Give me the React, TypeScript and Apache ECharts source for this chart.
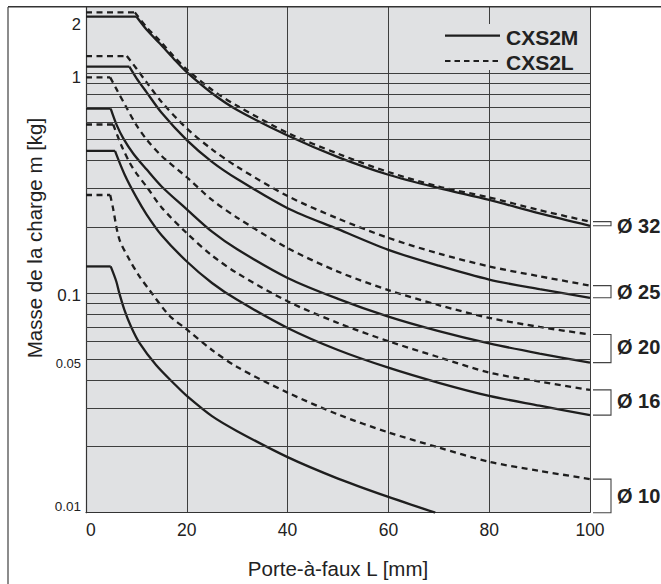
import React, { useEffect, useRef } from "react";
import * as echarts from "echarts";

// ---- data ----
const xTicks = [0, 20, 40, 60, 80, 100];
const yLabelValues = [2, 1, 0.1, 0.05, 0.01];
const yLabelTexts = ["2", "1", "0.1", "0.05", "0.01"];
const gridValues = [0.02, 0.03, 0.04, 0.05, 0.06, 0.07, 0.08, 0.09, 0.1, 0.2, 0.3, 0.4, 0.5, 0.6, 0.7, 0.8, 0.9, 1];
const diameters = ["Ø 32", "Ø 25", "Ø 20", "Ø 16", "Ø 10"];
const legendNames = ["CXS2M", "CXS2L"];
const xTitle = "Porte-à-faux L [mm]";
const yTitle = "Masse de la charge m [kg]";

// CXS2M (solid)
const m32 = [[0, 1.81], [10, 1.81], [12, 1.58], [14.7, 1.36], [17.3, 1.17], [20, 1.01], [25, 0.81], [30, 0.68], [40, 0.52], [50, 0.415], [60, 0.345], [70, 0.3], [80, 0.265], [90, 0.23], [100, 0.202]];
const m25 = [[0, 1.07], [8.6, 1.07], [10, 0.95], [12, 0.82], [15, 0.66], [20, 0.496], [25, 0.395], [30, 0.33], [40, 0.243], [50, 0.195], [60, 0.157], [70, 0.133], [80, 0.115], [90, 0.104], [100, 0.095]];
const m20 = [[0, 0.69], [4.9, 0.69], [6.1, 0.58], [7.4, 0.505], [9.4, 0.43], [12, 0.365], [15, 0.305], [20, 0.24], [25, 0.19], [30, 0.158], [40, 0.117], [50, 0.094], [60, 0.078], [70, 0.067], [80, 0.0589], [90, 0.053], [100, 0.0482]];
const m16 = [[0, 0.443], [5.75, 0.443], [7.7, 0.344], [10, 0.272], [12, 0.228], [15, 0.183], [20, 0.139], [25, 0.111], [30, 0.093], [40, 0.0693], [50, 0.055], [60, 0.0457], [70, 0.039], [80, 0.034], [90, 0.0307], [100, 0.0278]];
const m10 = [[0, 0.132], [4.9, 0.132], [6, 0.113], [6.6, 0.1], [7.6, 0.084], [8.9, 0.0706], [10.6, 0.0593], [13.9, 0.047], [17.9, 0.0378], [20, 0.034], [25, 0.0275], [30, 0.0235], [40, 0.0179], [50, 0.0143], [60, 0.0118], [69.3, 0.01]];

// CXS2L (dashed)
const l32 = [[0, 1.89], [9.7, 1.89], [12, 1.62], [14.7, 1.4], [17.3, 1.2], [20, 1.04], [25, 0.84], [30, 0.71], [40, 0.535], [50, 0.43], [60, 0.355], [70, 0.305], [80, 0.272], [90, 0.238], [100, 0.211]];
const l25 = [[0, 1.196], [8.1, 1.196], [10, 1.05], [12, 0.91], [15, 0.74], [20, 0.56], [25, 0.45], [30, 0.375], [40, 0.276], [50, 0.218], [60, 0.178], [70, 0.151], [80, 0.132], [90, 0.119], [100, 0.108]];
const l20 = [[0, 0.957], [4.8, 0.957], [6, 0.85], [8, 0.7], [10, 0.58], [12, 0.5], [15, 0.42], [20, 0.336], [25, 0.265], [30, 0.22], [40, 0.16], [50, 0.125], [60, 0.103], [70, 0.088], [80, 0.077], [90, 0.07], [100, 0.0647]];
const l16 = [[0, 0.584], [5.4, 0.584], [7, 0.47], [8.7, 0.39], [10, 0.35], [12, 0.305], [15, 0.245], [20, 0.187], [25, 0.148], [30, 0.123], [40, 0.0916], [50, 0.073], [60, 0.0603], [70, 0.051], [80, 0.0434], [90, 0.0395], [100, 0.0362]];
const l10 = [[0, 0.279], [4.8, 0.279], [5.3, 0.247], [6.6, 0.176], [8.6, 0.142], [10.6, 0.119], [12.6, 0.103], [16.5, 0.079], [20, 0.0682], [25, 0.055], [30, 0.046], [40, 0.0352], [50, 0.028], [60, 0.0232], [70, 0.0198], [80, 0.01706], [90, 0.0155], [100, 0.01422]];

const cxs2m = [m32, m25, m20, m16, m10];
const cxs2l = [l32, l25, l20, l16, l10];

// ---- styles ----
const W = 661;
const H = 584;
const FONT = "Liberation Sans, Arial, Helvetica, sans-serif";
const INK = "#1e1e1e";
const BG = "#e0e1e3";
const GRIDC = "#3e3e3e";
const yLabelOffsets = [17, 3.5, 2.7, 4.5, -6];
const yLabelSizes = [16.5, 16.5, 17, 13, 13.5];
const diaOffsets = [2, 0, -2, -2, 0];

function curvePair(d: number[][], name: string, dash: any) {
  const common = {
    type: "line",
    name,
    showSymbol: false,
    symbol: "none",
    z: 3,
    silent: true,
    lineStyle: { color: INK, width: 2.3, type: dash, cap: "butt" },
  };
  return [
    { ...common, data: d.slice(0, 2) },
    { ...common, data: d.slice(1), smooth: 0.3 },
  ];
}

export default function App() {
  const ref = useRef<HTMLDivElement>(null);

  useEffect(() => {
    if (!ref.current) return;
    const chart = echarts.init(ref.current, undefined, { renderer: "svg" });

    const curveSeries: any[] = [];
    cxs2m.forEach((d, i) => {
      curveSeries.push(...curvePair(d, legendNames[0] + " " + diameters[i], "solid"));
    });
    cxs2l.forEach((d, i) => {
      curveSeries.push(...curvePair(d, legendNames[1] + " " + diameters[i], [6, 4.5]));
    });

    chart.setOption({
      animation: false,
      grid: {
        left: 86,
        top: 7,
        width: 504,
        height: 505.7,
        show: true,
        backgroundColor: BG,
        borderWidth: 0,
      },
      xAxis: {
        type: "value",
        min: 0,
        max: 100,
        interval: 20,
        axisLine: { show: true, lineStyle: { color: "#333", width: 1.2 } },
        axisTick: { show: false },
        splitLine: { show: true, lineStyle: { color: GRIDC, width: 1 } },
        axisLabel: {
          show: true,
          fontFamily: FONT,
          fontSize: 17.5,
          color: "#222",
          margin: 8,
          alignMinLabel: "left",
          formatter: (v: number) => (xTicks.includes(v) ? String(v) : ""),
        },
      },
      yAxis: {
        type: "log",
        logBase: 10,
        min: 0.01,
        max: 2,
        axisLine: { show: true, lineStyle: { color: "#333", width: 1.2 } },
        axisTick: { show: false },
        axisLabel: { show: false },
        splitLine: { show: false },
      },
      series: [
        {
          type: "line",
          name: "grid",
          data: [],
          z: 1,
          silent: true,
          markLine: {
            silent: true,
            symbol: ["none", "none"],
            label: { show: false },
            lineStyle: { color: GRIDC, width: 1, type: "solid" },
            emphasis: { disabled: true },
            data: gridValues.map((v) => ({ yAxis: v })),
          },
        },
        ...curveSeries,
      ],
    });

    const py = (v: number) => chart.convertToPixel({ yAxisIndex: 0 }, v) as number;
    const px = (v: number) => chart.convertToPixel({ xAxisIndex: 0 }, v) as number;

    const graphics: any[] = [];
    // frame
    graphics.push({
      type: "line",
      z: 100,
      shape: { x1: 8, y1: 7, x2: 8, y2: H },
      style: { stroke: "#8c8c8c", lineWidth: 2 },
    });
    graphics.push({
      type: "line",
      z: 100,
      shape: { x1: 8, y1: 6.7, x2: W, y2: 6.7 },
      style: { stroke: "#333", lineWidth: 1.4 },
    });

    // y labels
    yLabelValues.forEach((v, i) => {
      graphics.push({
        type: "text",
        z: 100,
        x: 81,
        y: py(v) + yLabelOffsets[i],
        style: {
          text: yLabelTexts[i],
          fontFamily: FONT,
          fontSize: yLabelSizes[i],
          fill: "#222",
          textAlign: "right",
          textVerticalAlign: "middle",
        },
      });
    });

    // axis titles
    graphics.push({
      type: "text",
      z: 100,
      x: (px(0) + px(100)) / 2,
      y: 568,
      style: {
        text: xTitle,
        fontFamily: FONT,
        fontSize: 20.5,
        fill: "#222",
        textAlign: "center",
        textVerticalAlign: "middle",
      },
    });
    graphics.push({
      type: "text",
      z: 100,
      x: 34,
      y: 238,
      rotation: Math.PI / 2,
      style: {
        text: yTitle,
        fontFamily: FONT,
        fontSize: 20.5,
        fill: "#222",
        textAlign: "center",
        textVerticalAlign: "middle",
      },
    });

    // legend
    graphics.push({
      type: "rect",
      z: 90,
      shape: { x: 440, y: 24, width: 148, height: 46 },
      style: { fill: BG },
    });
    graphics.push({
      type: "line",
      z: 100,
      shape: { x1: 445, y1: 35.7, x2: 500, y2: 35.7 },
      style: { stroke: INK, lineWidth: 2.2 },
    });
    graphics.push({
      type: "line",
      z: 100,
      shape: { x1: 445, y1: 61, x2: 500, y2: 61 },
      style: { stroke: INK, lineWidth: 2.2, lineDash: [5.5, 4] },
    });
    legendNames.forEach((n, i) => {
      graphics.push({
        type: "text",
        z: 100,
        x: 506,
        y: i === 0 ? 37 : 62.5,
        style: {
          text: n,
          fontFamily: FONT,
          fontWeight: "bold",
          fontSize: 21,
          fill: "#222",
          textAlign: "left",
          textVerticalAlign: "middle",
        },
      });
    });

    // brackets and diameter labels
    diameters.forEach((d, i) => {
      const mLast = cxs2m[i][cxs2m[i].length - 1];
      const lLast = cxs2l[i][cxs2l[i].length - 1];
      const yA = py(mLast[1]);
      const yB = py(lLast[1]);
      const top = Math.min(yA, yB);
      const bot = Math.max(yA, yB);
      graphics.push({
        type: "polyline",
        z: 100,
        shape: { points: [[593, top], [611, top], [611, bot], [593, bot]] },
        style: { stroke: "#444", lineWidth: 1.1, fill: null },
      });
      graphics.push({
        type: "text",
        z: 100,
        x: 617,
        y: (top + bot) / 2 + diaOffsets[i],
        style: {
          text: d,
          fontFamily: FONT,
          fontWeight: "bold",
          fontSize: 20,
          fill: "#222",
          textAlign: "left",
          textVerticalAlign: "middle",
        },
      });
    });

    chart.setOption({ graphic: graphics });

    return () => chart.dispose();
  }, []);

  return (
    <div
      ref={ref}
      style={{ position: "absolute", left: 0, top: 0, width: W, height: H, background: "#fff" }}
    />
  );
}
